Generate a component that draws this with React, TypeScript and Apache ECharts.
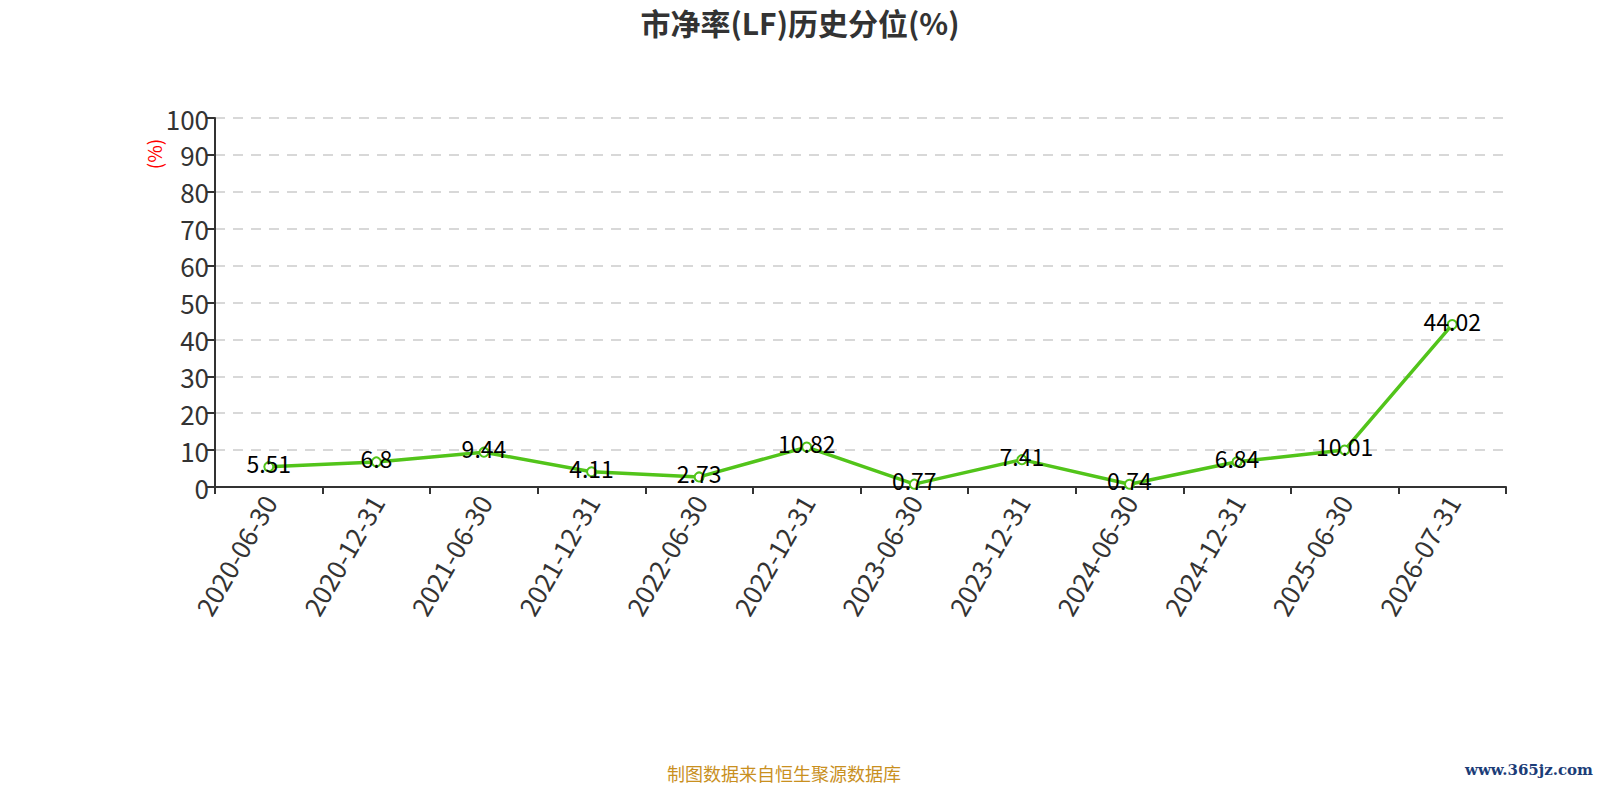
import React, { useEffect, useRef } from "react";
import * as echarts from "echarts";

const categories = [
  "2020-06-30", "2020-12-31", "2021-06-30", "2021-12-31", "2022-06-30", "2022-12-31",
  "2023-06-30", "2023-12-31", "2024-06-30", "2024-12-31", "2025-06-30", "2026-07-31",
];
const values = [5.51, 6.8, 9.44, 4.11, 2.73, 10.82, 0.77, 7.41, 0.74, 6.84, 10.01, 44.02];
const titleText = "市净率(LF)历史分位(%)";
const sourceText = "制图数据来自恒生聚源数据库";
const watermarkText = "www.365jz.com";
const yAxisName = "(%)";

const FONT = "'Noto Sans CJK SC', 'Noto Sans', sans-serif";

export default function App() {
  const ref = useRef<HTMLDivElement>(null);
  useEffect(() => {
    if (!ref.current) return;
    const chart = echarts.init(ref.current, null, { renderer: "svg" });
    chart.setOption({
      animation: false,
      backgroundColor: "#fff",
      textStyle: { fontFamily: FONT },
      title: {
        text: titleText,
        left: "center",
        top: 2,
        textStyle: { fontSize: 30, fontWeight: "bold", color: "#333", fontFamily: FONT },
      },
      grid: { left: 215, right: 94, top: 118, bottom: 313, containLabel: false },
      xAxis: {
        type: "category",
        data: categories,
        boundaryGap: true,
        axisLine: { lineStyle: { color: "#333", width: 2 } },
        axisTick: { show: true, length: 7, lineStyle: { color: "#333", width: 2 } },
        axisLabel: { rotate: 60, interval: 0, fontSize: 26, color: "#333", margin: 10, fontFamily: FONT },
        splitLine: { show: false },
      },
      yAxis: {
        type: "value",
        min: 0,
        max: 100,
        interval: 10,
        axisLine: { show: true, lineStyle: { color: "#333", width: 2 } },
        axisTick: { show: true, length: 9, lineStyle: { color: "#333", width: 2 } },
        axisLabel: { fontSize: 26, color: "#333", margin: 6, fontFamily: FONT },
        splitLine: { show: true, lineStyle: { color: "#ccc", type: [10, 8], width: 1.5 } },
      },
      series: [
        {
          type: "line",
          data: values,
          symbol: "emptyCircle",
          symbolSize: 9,
          itemStyle: { color: "#52c41a", borderWidth: 2 },
          lineStyle: { color: "#52c41a", width: 3.5 },
          label: {
            show: true,
            position: "inside",
            offset: [0, -4],
            color: "#000",
            fontSize: 23,
            fontFamily: FONT,
          },
        },
      ],
      graphic: [
        {
          type: "text",
          x: 153,
          y: 154,
          rotation: Math.PI / 2,
          style: {
            text: yAxisName,
            fill: "#ff0000",
            fontSize: 19,
            fontFamily: FONT,
            align: "center",
            verticalAlign: "middle",
          },
        },
        {
          type: "text",
          x: 784,
          y: 773,
          style: {
            text: sourceText,
            fill: "#c9901f",
            fontSize: 18,
            fontFamily: FONT,
            align: "center",
            verticalAlign: "middle",
          },
        },
        {
          type: "text",
          x: 1593,
          y: 770,
          style: {
            text: watermarkText,
            fill: "#1c3d78",
            fontSize: 15,
            fontWeight: "bold",
            fontFamily: "'DejaVu Serif', serif",
            align: "right",
            verticalAlign: "middle",
          },
        },
      ],
    });
    return () => chart.dispose();
  }, []);
  return (
    <div
      ref={ref}
      style={{ position: "fixed", left: 0, top: 0, width: 1600, height: 800, background: "#fff" }}
    />
  );
}
